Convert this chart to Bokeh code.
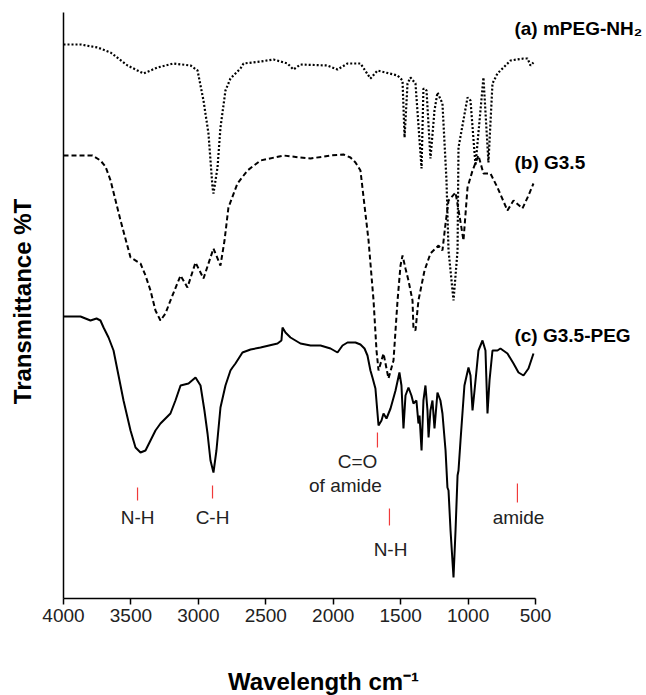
import math
from bokeh.plotting import figure
from bokeh.models import Range1d, FixedTicker, Label
from bokeh.embed import file_html
from bokeh.resources import INLINE

# ---- data (wavenumber cm-1, transmittance in arbitrary offset units) ----
wn_a = [4000, 3874, 3748, 3651, 3525, 3407, 3303, 3184, 3058, 3006, 2962, 2925, 2895, 2888,
        2858, 2836, 2799, 2762, 2688, 2665, 2539, 2443, 2339, 2295, 2243, 2042, 1968, 1894,
        1798, 1724, 1672, 1523, 1486, 1471, 1449, 1427, 1390, 1345, 1331, 1308, 1279, 1249,
        1227, 1190, 1160, 1145, 1108, 1078, 1071, 1004, 982, 945, 886, 849, 819, 782, 685,
        589, 559, 537, 515]
t_a = [554, 554, 551, 546, 533, 525, 531, 535, 533, 528, 498, 465, 411, 405,
       431, 471, 508, 520, 530, 535, 537, 539, 535, 529, 534, 533, 529, 535,
       535, 520, 528, 523, 518, 461, 515, 521, 515, 430, 510, 508, 440, 488,
       506, 495, 418, 348, 298, 348, 451, 501, 498, 433, 521, 436, 515, 525, 538,
       540, 540, 533, 536]

wn_b = [4000, 3785, 3726, 3689, 3651, 3577, 3503, 3429, 3392, 3355, 3318, 3281, 3244, 3207,
        3132, 3081, 3021, 2962, 2888, 2836, 2806, 2777, 2710, 2636, 2539, 2369, 2243, 2168,
        2020, 1924, 1872, 1835, 1798, 1738, 1701, 1679, 1664, 1627, 1590, 1553, 1523, 1501,
        1486, 1464, 1442, 1412, 1405, 1390, 1368, 1323, 1279, 1219, 1190, 1167, 1145, 1093,
        1064, 1034, 1004, 967, 923, 886, 834, 782, 708, 663, 597, 552, 515]
t_b = [443, 443, 438, 432, 418, 378, 341, 335, 323, 308, 288, 278, 285, 298,
       323, 311, 336, 320, 350, 333, 358, 391, 415, 428, 438, 443, 441, 440,
       443, 444, 441, 436, 428, 358, 298, 248, 228, 245, 220, 238, 298, 333,
       343, 330, 318, 298, 270, 268, 298, 328, 345, 353, 348, 375, 398, 406,
       383, 358, 411, 428, 443, 425, 425, 411, 388, 398, 390, 403, 415]

wn_c = [4000, 3874, 3800, 3755, 3726, 3703, 3666, 3629, 3592, 3555, 3503, 3466, 3429, 3392,
        3355, 3318, 3281, 3207, 3170, 3132, 3073, 3021, 2984, 2955, 2932, 2910, 2888, 2866,
        2836, 2799, 2762, 2747, 2725, 2673, 2613, 2539, 2413, 2384, 2376, 2354, 2317, 2243,
        2168, 2094, 2020, 1968, 1931, 1894, 1835, 1798, 1768, 1746, 1724, 1709, 1687, 1664,
        1642, 1627, 1605, 1575, 1538, 1509, 1494, 1479, 1464, 1442, 1420, 1405, 1383, 1368,
        1360, 1345, 1331, 1316, 1301, 1293, 1279, 1264, 1249, 1227, 1205, 1190, 1167, 1153,
        1145, 1130, 1108, 1093, 1078, 1071, 1056, 1027, 997, 982, 967, 952, 923, 893,
        871, 856, 841, 819, 782, 760, 708, 663, 626, 589, 552, 515]
t_c = [282, 282, 278, 280, 278, 271, 261, 248, 223, 198, 168, 151, 146, 148,
       158, 168, 175, 185, 198, 213, 215, 221, 213, 188, 165, 138, 126, 148,
       191, 213, 228, 231, 235, 246, 249, 251, 255, 258, 271, 266, 261, 255,
       253, 253, 250, 246, 253, 256, 256, 254, 250, 243, 228, 221, 210, 173,
       178, 185, 180, 190, 208, 226, 213, 170, 203, 211, 203, 195, 198, 175,
       183, 148, 198, 213, 188, 161, 188, 198, 170, 206, 198, 185, 148, 111,
       108, 68, 21, 68, 123, 128, 158, 213, 231, 223, 188, 208, 248, 258,
       248, 185, 218, 248, 248, 250, 245, 235, 226, 223, 230, 245]

x_ticks = [4000, 3500, 3000, 2500, 2000, 1500, 1000, 500]

series_names = ["(a) mPEG-NH\u2082", "(b) G3.5", "(c) G3.5-PEG"]
series_label_y = [570, 436, 263]

band_names = ["N-H", "C-H", "C=O", "of amide", "N-H", "amide"]
band_text_x = [3451, 2895, 1820, 1909, 1575, 626]
band_text_y = [81, 81, 137, 113, 49, 81]
band_mark_x = [3451, 2895, 1672, 1583, 634]
band_mark_y0 = [98, 100, 151, 73, 96]
band_mark_y1 = [111, 113, 166, 90, 115]

FONT = "Liberation Sans"

# The plot frame covers the whole canvas so that every label can be placed freely;
# the axes are pinned at x=4000 and y=0 and limited to the data span with bounds.
p = figure(width=646, height=695, output_backend="svg", toolbar_location=None,
           x_range=Range1d(4467.2, -323.1), y_range=Range1d(-97, 598),
           min_border=0)
p.outline_line_color = None
p.grid.visible = False

p.line(wn_a, t_a, line_color="black", line_width=2.2, line_dash="2 2")
p.line(wn_b, t_b, line_color="black", line_width=2, line_dash="5 3")
p.line(wn_c, t_c, line_color="black", line_width=2)

p.segment(x0=band_mark_x, y0=band_mark_y0, x1=band_mark_x, y1=band_mark_y1,
          line_color="#f03a3a", line_width=1.2)

xa = p.xaxis[0]
xa.fixed_location = 0
xa.bounds = (500, 4000)
xa.ticker = FixedTicker(ticks=x_ticks)
xa.major_tick_out = 6
xa.major_tick_in = 0
xa.minor_tick_line_color = None
xa.axis_line_width = 1.5
xa.major_tick_line_width = 1.5
xa.axis_line_color = "black"
xa.major_tick_line_color = "black"
xa.major_label_text_font = FONT
xa.major_label_text_font_size = "19px"
xa.major_label_text_color = "#222222"
xa.major_label_standoff = 4

ya = p.yaxis[0]
ya.fixed_location = 4000
ya.bounds = (0, 586)
ya.ticker = FixedTicker(ticks=[])
ya.major_tick_line_color = None
ya.minor_tick_line_color = None
ya.major_label_text_font_size = "0px"
ya.axis_line_width = 1.5
ya.axis_line_color = "black"

p.add_layout(Label(x=2072, y=-83, text="Wavelength cm\u207b\u00b9", text_align="center",
                   text_baseline="middle", text_font=FONT, text_font_style="bold",
                   text_font_size="24px", text_color="black"))
p.add_layout(Label(x=4304, y=297, text="Transmittance %T", angle=math.pi / 2,
                   text_align="center", text_baseline="middle", text_font=FONT,
                   text_font_style="bold", text_font_size="24px", text_color="black"))

for name, yy in zip(series_names, series_label_y):
    p.add_layout(Label(x=656, y=yy, text=name, text_align="left", text_baseline="middle",
                       text_font=FONT, text_font_style="bold", text_font_size="19px",
                       text_color="black"))

for name, xx, yy in zip(band_names, band_text_x, band_text_y):
    p.add_layout(Label(x=xx, y=yy, text=name, text_align="center", text_baseline="middle",
                       text_font=FONT, text_font_size="19px", text_color="#222222"))

open("out.html", "w").write(file_html(p, INLINE))
